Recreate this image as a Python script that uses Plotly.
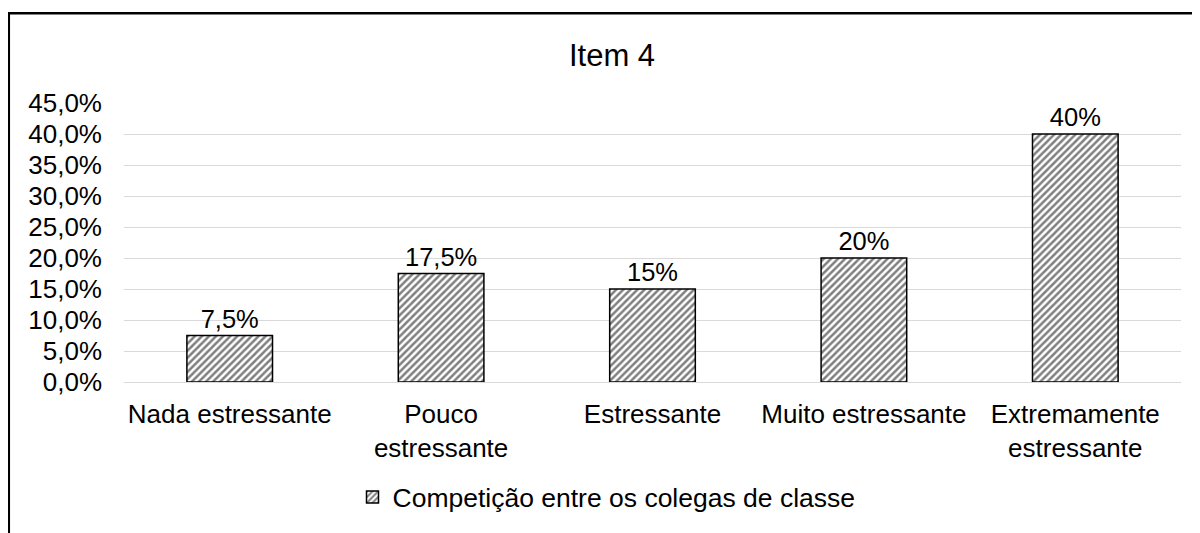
import plotly.graph_objects as go

categories = ["Nada estressante", "Pouco<br>estressante", "Estressante", "Muito estressante", "Extremamente<br>estressante"]
values = [0.075, 0.175, 0.15, 0.20, 0.40]
value_labels = ["7,5%", "17,5%", "15%", "20%", "40%"]
series_name = "Competição entre os colegas de classe"
y_ticks = [0, 0.05, 0.10, 0.15, 0.20, 0.25, 0.30, 0.35, 0.40, 0.45]

font_family = "Liberation Sans, Arial, sans-serif"

# page has an 8px body margin: figure is sized/positioned to compensate
W, H = 1192, 525
L, R, T, B = 116, 19, 95, 147
plot_h = H - T - B
plot_w = W - L - R

fig = go.Figure()
fig.add_trace(go.Bar(
    x=categories,
    y=values,
    name=series_name,
    text=value_labels,
    textposition="outside",
    textfont=dict(size=25.5, color="#000000", family=font_family),
    cliponaxis=False,
    width=0.405,
    marker=dict(
        color="#ffffff",
        line=dict(color="#000000", width=1.5),
        pattern=dict(shape="/", fgcolor="#000000", bgcolor="#ffffff", size=5, solidity=0.5, fillmode="overlay"),
    ),
    showlegend=True,
))

fig.update_layout(
    width=W,
    height=H,
    margin=dict(l=L, r=R, t=T, b=B, pad=0),
    paper_bgcolor="#ffffff",
    plot_bgcolor="#ffffff",
    separators=",.",
    font=dict(family=font_family, size=26, color="#000000"),
    title=dict(text="Item 4", x=604 / W, xanchor="center", y=1 - 47 / H, yanchor="middle",
               font=dict(size=31, color="#000000", family=font_family)),
    showlegend=True,
    legend=dict(orientation="h", x=0.5 - 46 / plot_w, xanchor="center", y=(T + plot_h - 495) / plot_h, yanchor="middle",
                font=dict(size=26.5, color="#000000", family=font_family),
                itemwidth=30, tracegroupgap=0),
    bargap=0.6,
)
fig.update_yaxes(
    range=[0, 0.45],
    tickvals=y_ticks,
    tickformat=".1%",
    showgrid=True,
    gridcolor="#d9d9d9",
    gridwidth=1.2,
    zeroline=True,
    zerolinecolor="#d9d9d9",
    zerolinewidth=1.2,
    showline=False,
    ticks="",
    ticklabelstandoff=21,
    tickfont=dict(size=26, color="#000000"),
)
fig.update_xaxes(
    showline=False,
    ticks="",
    ticklabelstandoff=14,
    tickfont=dict(size=26, color="#000000"),
)

# outer chart border (left at figure x=0.5, top at figure y=4)
fig.add_shape(type="rect", xref="paper", yref="paper",
              x0=(0.8 - L) / plot_w, x1=1.05, y0=-0.6, y1=(T + plot_h - 4) / plot_h,
              line=dict(color="#000000", width=2.5), fillcolor="rgba(0,0,0,0)", layer="above")

fig.write_html("out.html")
